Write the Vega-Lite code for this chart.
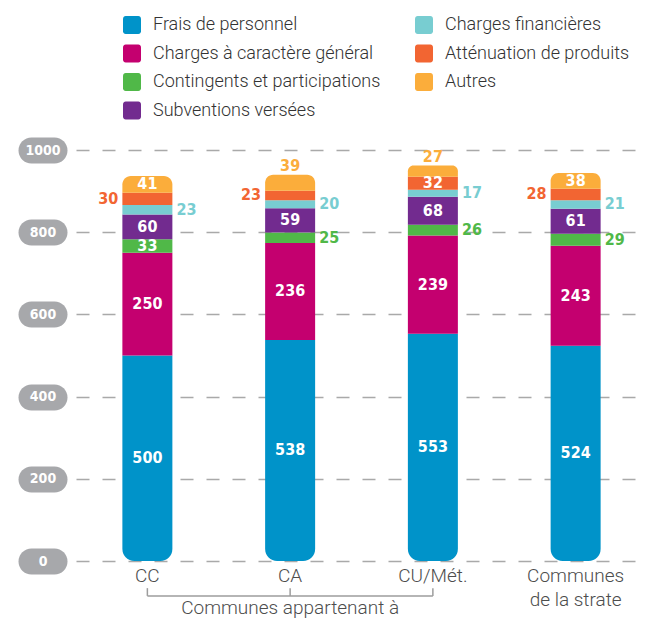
{
  "$schema": "https://vega.github.io/schema/vega-lite/v6.json",
  "width": 571,
  "height": 411,
  "autosize": "none",
  "padding": {"left": 76, "top": 150, "right": 0, "bottom": 59},
  "background": "white",
  "config": {"view": {"stroke": null}, "font": "Roboto"},
  "data": {
    "values": [
      {"group": "CC", "category": "Frais de personnel", "value": 500},
      {"group": "CC", "category": "Charges à caractère général", "value": 250},
      {"group": "CC", "category": "Contingents et participations", "value": 33},
      {"group": "CC", "category": "Subventions versées", "value": 60},
      {"group": "CC", "category": "Charges financières", "value": 23},
      {"group": "CC", "category": "Atténuation de produits", "value": 30},
      {"group": "CC", "category": "Autres", "value": 41},
      {"group": "CA", "category": "Frais de personnel", "value": 538},
      {"group": "CA", "category": "Charges à caractère général", "value": 236},
      {"group": "CA", "category": "Contingents et participations", "value": 25},
      {"group": "CA", "category": "Subventions versées", "value": 59},
      {"group": "CA", "category": "Charges financières", "value": 20},
      {"group": "CA", "category": "Atténuation de produits", "value": 23},
      {"group": "CA", "category": "Autres", "value": 39},
      {"group": "CU/Mét.", "category": "Frais de personnel", "value": 553},
      {"group": "CU/Mét.", "category": "Charges à caractère général", "value": 239},
      {"group": "CU/Mét.", "category": "Contingents et participations", "value": 26},
      {"group": "CU/Mét.", "category": "Subventions versées", "value": 68},
      {"group": "CU/Mét.", "category": "Charges financières", "value": 17},
      {"group": "CU/Mét.", "category": "Atténuation de produits", "value": 32},
      {"group": "CU/Mét.", "category": "Autres", "value": 27},
      {"group": "Communes de la strate", "category": "Frais de personnel", "value": 524},
      {"group": "Communes de la strate", "category": "Charges à caractère général", "value": 243},
      {"group": "Communes de la strate", "category": "Contingents et participations", "value": 29},
      {"group": "Communes de la strate", "category": "Subventions versées", "value": 61},
      {"group": "Communes de la strate", "category": "Charges financières", "value": 21},
      {"group": "Communes de la strate", "category": "Atténuation de produits", "value": 28},
      {"group": "Communes de la strate", "category": "Autres", "value": 38}
    ]
  },
  "encoding": {
    "x": {
      "field": "group",
      "type": "nominal",
      "sort": ["CC", "CA", "CU/Mét.", "Communes de la strate"],
      "scale": {"domain": ["CC", "CA", "CU/Mét.", "Communes de la strate"], "paddingInner": 0, "paddingOuter": 0},
      "axis": {
        "title": null,
        "domain": false,
        "ticks": false,
        "labelAngle": 0,
        "labelFont": "Roboto",
        "labelFontWeight": 300,
        "labelFontSize": 19,
        "labelColor": "#4d4d4d",
        "labelPadding": 5,
        "labelBaseline": "top",
        "labelLineHeight": 24,
        "labelExpr": "datum.value == 'Communes de la strate' ? ['Communes', 'de la strate'] : datum.label"
      }
    }
  },
  "layer": [
    {
      "transform": [
        {"calculate": "indexof(['Frais de personnel','Charges à caractère général','Contingents et participations','Subventions versées','Charges financières','Atténuation de produits','Autres'], datum.category)", "as": "rank"},
        {"stack": "value", "groupby": ["group"], "sort": [{"field": "rank", "order": "ascending"}], "as": ["y0", "y1"]},
        {"calculate": "(datum.y0 + datum.y1) / 2", "as": "mid"}
      ],
      "encoding": {
        "y": {
          "field": "y1",
          "type": "quantitative",
          "scale": {"domain": [0, 1000], "nice": false},
          "axis": {
            "title": null,
            "values": [0, 200, 400, 600, 800, 1000],
            "format": "d",
            "offset": 22,
            "domain": false,
            "ticks": true,
            "tickSize": 23,
            "tickWidth": 26,
            "tickCap": "round",
            "tickColor": "#a7a8ab",
            "labelColor": "white",
            "labelFont": "DejaVu Sans Condensed",
            "labelFontWeight": "bold",
            "labelFontSize": 14,
            "labelAlign": "center",
            "labelBaseline": "middle",
            "labelPadding": -11.5,
            "grid": true,
            "gridDash": [13, 13],
            "gridColor": "#a9a9a9",
            "gridWidth": 1.5
          }
        },
        "color": {
          "field": "category",
          "type": "nominal",
          "scale": {
            "domain": ["Frais de personnel", "Charges à caractère général", "Contingents et participations", "Subventions versées", "Charges financières", "Atténuation de produits", "Autres"],
            "range": ["#0093c9", "#c4006f", "#50b848", "#722b8f", "#78cdd1", "#f26532", "#fbad3b"]
          },
          "legend": {
            "title": null,
            "orient": "none",
            "legendX": 47,
            "legendY": -134,
            "columns": 2,
            "columnPadding": 34,
            "rowPadding": 10.5,
            "symbolType": "M-1,-0.7 A0.3,0.3 0 0 1 -0.7,-1 L0.7,-1 A0.3,0.3 0 0 1 1,-0.7 L1,0.7 A0.3,0.3 0 0 1 0.7,1 L-0.7,1 A0.3,0.3 0 0 1 -1,0.7 Z",
            "symbolSize": 324,
            "symbolStrokeWidth": 0,
            "symbolOpacity": 1,
            "labelFont": "Roboto",
            "labelFontWeight": 300,
            "labelFontSize": 18,
            "labelColor": "#333333",
            "labelOffset": 12,
            "labelLimit": 400
          }
        }
      },
      "layer": [
        {
          "transform": [{"filter": "datum.category == 'Frais de personnel'"}],
          "mark": {"type": "bar", "width": 50, "cornerRadiusBottomLeft": 12, "cornerRadiusBottomRight": 12},
          "encoding": {"y2": {"field": "y0"}}
        },
        {
          "transform": [{"filter": "datum.category != 'Frais de personnel' && datum.category != 'Autres'"}],
          "mark": {"type": "bar", "width": 50},
          "encoding": {"y2": {"field": "y0"}}
        },
        {
          "transform": [{"filter": "datum.category == 'Autres'"}],
          "mark": {"type": "bar", "width": 50, "cornerRadiusTopLeft": 12, "cornerRadiusTopRight": 12},
          "encoding": {"y2": {"field": "y0"}}
        },
        {
          "transform": [{"filter": "datum.category == 'Frais de personnel' || datum.category == 'Charges à caractère général' || datum.category == 'Subventions versées' || (datum.group == 'CC' && (datum.category == 'Contingents et participations' || datum.category == 'Autres')) || (datum.group == 'CU/Mét.' && datum.category == 'Atténuation de produits') || (datum.group == 'Communes de la strate' && datum.category == 'Autres')"}],
          "mark": {"type": "text", "font": "DejaVu Sans Condensed", "fontWeight": "bold", "fontSize": 16, "baseline": "middle", "align": "center"},
          "encoding": {
            "y": {"field": "mid", "type": "quantitative"},
            "text": {"field": "value", "type": "quantitative"},
            "color": {"value": "white"}
          }
        },
        {
          "transform": [{"filter": "datum.category == 'Charges financières' || (datum.category == 'Contingents et participations' && datum.group != 'CC')"}],
          "mark": {"type": "text", "font": "DejaVu Sans Condensed", "fontWeight": "bold", "fontSize": 16, "baseline": "middle", "align": "left", "dx": 29},
          "encoding": {
            "y": {"field": "mid", "type": "quantitative"},
            "text": {"field": "value", "type": "quantitative"}
          }
        },
        {
          "transform": [{"filter": "datum.category == 'Atténuation de produits' && datum.group != 'CU/Mét.'"}],
          "mark": {"type": "text", "font": "DejaVu Sans Condensed", "fontWeight": "bold", "fontSize": 16, "baseline": "middle", "align": "right", "dx": -29},
          "encoding": {
            "y": {"field": "mid", "type": "quantitative"},
            "text": {"field": "value", "type": "quantitative"}
          }
        },
        {
          "transform": [{"filter": "datum.category == 'Autres' && (datum.group == 'CA' || datum.group == 'CU/Mét.')"}],
          "mark": {"type": "text", "font": "DejaVu Sans Condensed", "fontWeight": "bold", "fontSize": 16, "baseline": "bottom", "align": "center", "dy": -1},
          "encoding": {
            "y": {"field": "y1", "type": "quantitative"},
            "text": {"field": "value", "type": "quantitative"}
          }
        }
      ]
    },
    {
      "data": {"values": [{"group": "CC"}, {"group": "CA"}, {"group": "CU/Mét."}]},
      "mark": {"type": "line", "color": "#9d9d9d", "strokeWidth": 1.5},
      "encoding": {"y": {"datum": -85}}
    },
    {
      "data": {"values": [{"group": "CC"}, {"group": "CA"}, {"group": "CU/Mét."}]},
      "mark": {"type": "rule", "color": "#9d9d9d", "strokeWidth": 1.5},
      "encoding": {"y": {"datum": -66}, "y2": {"datum": -85}}
    },
    {
      "data": {"values": [{"group": "CA", "text": "Communes appartenant à"}]},
      "mark": {"type": "text", "font": "Roboto", "fontWeight": 300, "fontSize": 19, "color": "#4d4d4d", "baseline": "middle", "align": "center"},
      "encoding": {"y": {"datum": -114}, "text": {"field": "text", "type": "nominal"}}
    }
  ]
}
